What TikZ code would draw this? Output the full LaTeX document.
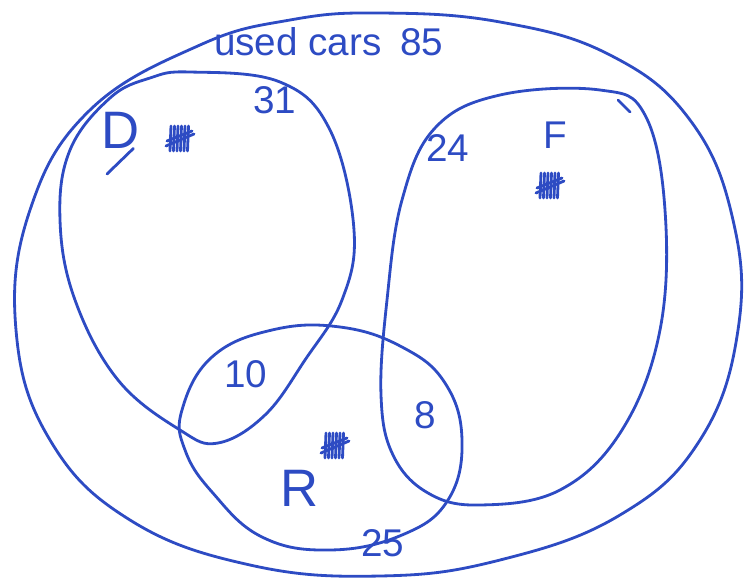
\documentclass[tikz,border=0pt]{standalone}
\usepackage{fontspec}
\setmainfont{Liberation Sans}
\definecolor{penblue}{RGB}{45,75,195}
\tikzset{
  pen/.style={penblue, line width=1.6pt, line join=round, line cap=round},
  lbl/.style={penblue, font=\fontsize{22}{24}\selectfont, inner sep=0pt},
  big/.style={penblue, font=\fontsize{30}{32}\selectfont, inner sep=0pt},
  tallystroke/.style={penblue, line width=1.6pt, line cap=round}
}
% tally marks
\newcommand{\tallymarks}[2]{%
  \foreach \i in {0,...,5} \draw[tallystroke] (#1+\i*3.5-9, #2-14) -- (#1+\i*3.5-10, #2+11);
  \draw[tallystroke] (#1-14, #2+6) -- (#1+14, #2-6);
  \draw[tallystroke] (#1-13, #2+1) -- (#1+12, #2-9);
}
\begin{document}
\begin{tikzpicture}[x=0.02cm, y=-0.02cm]
    \useasboundingbox (0,0) rectangle (744,582);

    % Grundmenge
    \draw[pen] plot[smooth cycle, tension=0.7] coordinates {
      (380,13) (500,22) (610,55) (690,120) (733,220) (738,330)
      (700,440) (620,515) (500,560) (380,576) (250,565) (130,520)
      (50,440) (16,330) (30,210) (90,110) (200,45) (290,20)};

    % Menge D
    \draw[pen] plot[smooth cycle, tension=0.65] coordinates {
      (190,72) (280,82) (330,130) (354,230) (342,300) (305,360)
      (265,415) (218,443) (180,430) (118,380) (75,300) (60,220)
      (70,150) (110,98) (150,78)};

    % Menge F
    \draw[pen] plot[smooth cycle, tension=0.65] coordinates {
      (500,95) (600,90) (645,115) (665,210) (660,330) (622,430)
      (560,490) (480,505) (428,493) (393,455) (381,395) (387,300)
      (402,200) (435,128)};
    \draw[pen] (618,100) -- (630,112);

    % Menge R
    \draw[pen] plot[smooth cycle, tension=0.7] coordinates {
      (182,410) (212,357) (272,330) (340,327) (402,347) (445,383)
      (462,440) (448,500) (402,535) (330,550) (262,537) (212,492)
      (185,450)};

    % Beschriftungen
    \node[lbl, anchor=east] (used) at (382,42) {used cars};
    \node[lbl] (total) at (422,42) {85};
    \node[big] (setD) at (121,130) {D};
    \draw[pen] ([xshift=-4pt]setD.south east) -- (107,174);
    \node[lbl] (nD) at (275,100) {31};
    \node[lbl] (nF) at (448,148) {24};
    \node[lbl] (setF) at (555,135) {F};
    \node[lbl] (nDR) at (246,374) {10};
    \node[lbl] (nFR) at (425,415) {8};
    \node[big] (setR) at (300,488) {R};
    \node[lbl] (nR) at (383,543) {25};

    % Striche
    \tallymarks{180}{140}
    \tallymarks{550}{187}
    \tallymarks{335}{447}
\end{tikzpicture}
\end{document}
